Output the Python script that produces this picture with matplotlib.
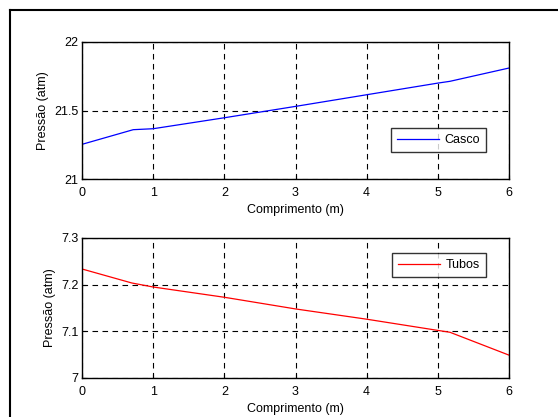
import matplotlib
matplotlib.use("Agg")
import matplotlib.pyplot as plt
from matplotlib.lines import Line2D

plt.rcParams['font.family'] = ['Liberation Sans', 'DejaVu Sans']
plt.rcParams['font.size'] = 9

# comprimento ao longo do trocador (m)
x_casco = [0, 0.72, 1, 2, 3, 4, 5, 5.17, 6]
p_casco = [21.253, 21.36, 21.367, 21.447, 21.53, 21.615, 21.70, 21.713, 21.81]

x_tubos = [0, 0.70, 1, 2, 3, 4, 5, 5.17, 6]
p_tubos = [7.2336, 7.2036, 7.195, 7.173, 7.148, 7.126, 7.102, 7.098, 7.049]

xticks = [0, 1, 2, 3, 4, 5, 6]
yticks_casco = [21, 21.5, 22]
yticks_tubos = [7, 7.1, 7.2, 7.3]

W, H = 558, 417
fig = plt.figure(figsize=(W / 100, H / 100), dpi=100)

# moldura (so esquerda e topo aparecem no recorte)
fig.add_artist(Line2D([10 / W, 10 / W], [0, 1 - 10 / H], color='k', lw=1.5))
fig.add_artist(Line2D([10 / W, 1], [1 - 10 / H, 1 - 10 / H], color='k', lw=1.5))

def setup(ax, yticks, ylabels):
    ax.set_xlim(0, 6)
    ax.set_ylim(yticks[0], yticks[-1])
    ax.set_xticks(xticks)
    ax.set_xticklabels([str(t) for t in xticks])
    ax.set_yticks(yticks)
    ax.set_yticklabels(ylabels)
    ax.grid(True, color='k', linestyle=(0, (5, 4)), linewidth=0.8)
    ax.tick_params(direction='in', length=3, width=0.8)
    ax.tick_params(axis='x', pad=5.5)
    ax.tick_params(axis='y', pad=2.5)
    for s in ax.spines.values():
        s.set_linewidth(1.0)
    ax.set_xlabel('Comprimento (m)', labelpad=4)
    ax.set_ylabel('Pressão (atm)', labelpad=4)

def add_legend(ax, anchor_y, loc):
    leg = ax.legend(loc=loc, bbox_to_anchor=(0.946, anchor_y), frameon=True,
                    fancybox=False, edgecolor='k', handlelength=3.4,
                    handletextpad=0.45, borderpad=0.45, borderaxespad=0)
    leg.get_frame().set_linewidth(1.0)

ax1 = fig.add_axes([82 / W, 1 - 179 / H, 427 / W, 137 / H])
ax1.plot(x_casco, p_casco, color='b', lw=0.9, label='Casco')
setup(ax1, yticks_casco, ['21', '21.5', '22'])
add_legend(ax1, 0.285, 'center right')

ax2 = fig.add_axes([82 / W, 1 - 378 / H, 427 / W, 140 / H])
ax2.plot(x_tubos, p_tubos, color='r', lw=0.9, label='Tubos')
setup(ax2, yticks_tubos, ['7', '7.1', '7.2', '7.3'])
add_legend(ax2, 0.89, 'upper right')

fig.savefig('out.png', dpi=100)
